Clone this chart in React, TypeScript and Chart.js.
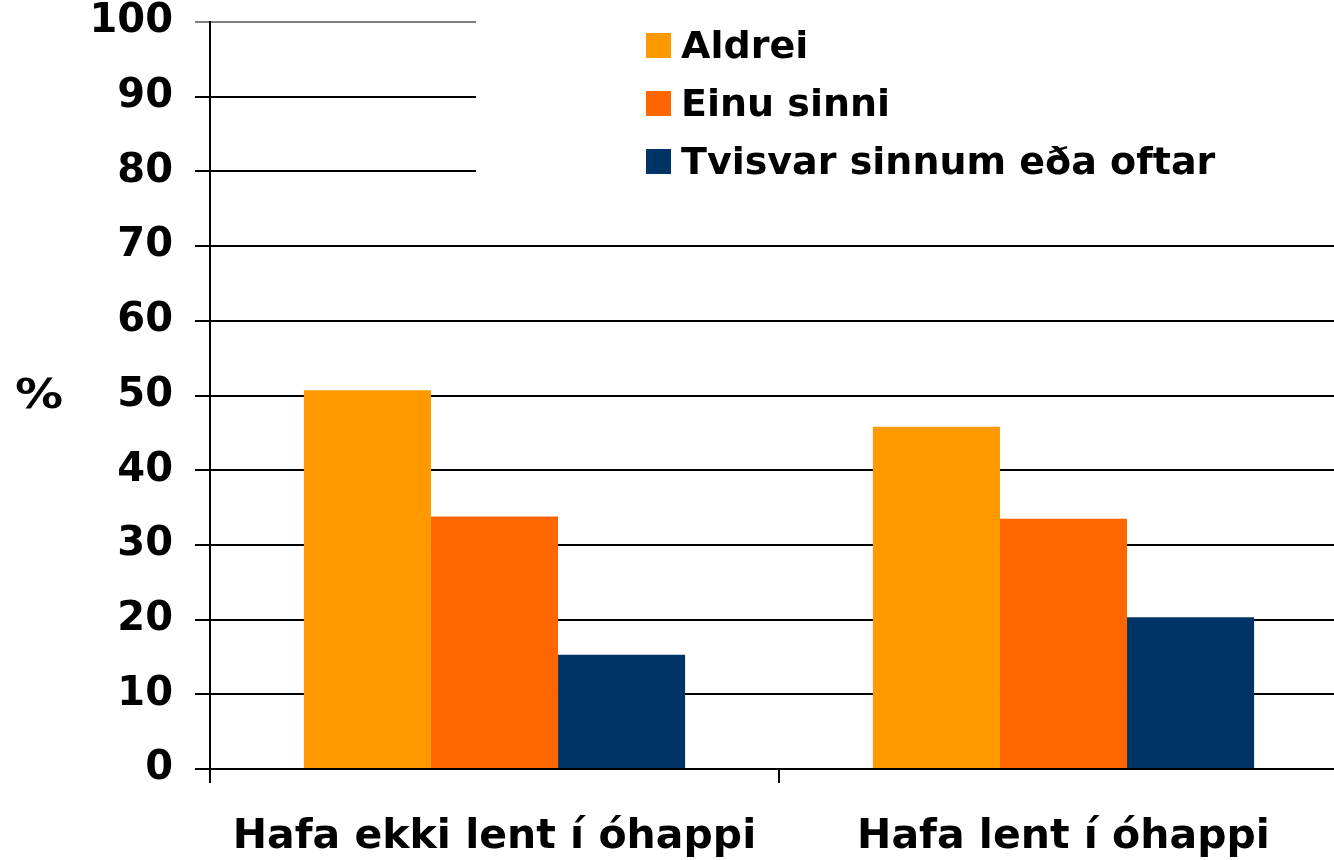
import React, { useEffect, useRef } from "react";
import { Chart, registerables } from "chart.js";

Chart.register(...registerables);

const categories = ["Hafa ekki lent í óhappi", "Hafa lent í óhappi"];
const seriesNames = ["Aldrei", "Einu sinni", "Tvisvar sinnum eða oftar"];
const aldrei = [50.7, 45.8];
const einuSinni = [33.8, 33.5];
const tvisvar = [15.3, 20.3];
const seriesColors = ["#FF9900", "#FF6600", "#003366"];
const yTitle = "%";

const FONT = "'DejaVu Sans', Verdana, sans-serif";

const overlayPlugin = {
  id: "overlay",
  afterDatasetsDraw(chart: any) {
    const ctx = chart.ctx;
    const y = chart.scales.y;
    ctx.save();
    // legend box (white, covers grid lines)
    ctx.fillStyle = "#ffffff";
    ctx.fillRect(476, 0, chart.width - 476, 210);
    const boxX = 646;
    const boxSize = 25;
    const firstTop = 33;
    const step = 58;
    ctx.font = `bold 38px ${FONT}`;
    ctx.textAlign = "left";
    ctx.textBaseline = "alphabetic";
    chart.data.datasets.forEach((ds: any, i: number) => {
      const top = firstTop + i * step;
      ctx.fillStyle = ds.backgroundColor;
      ctx.fillRect(boxX, top, boxSize, boxSize);
      ctx.fillStyle = "#000000";
      ctx.fillText(ds.label, 681, top + boxSize);
    });
    // y title
    ctx.translate(15, y.getPixelForValue(50) + 2);
    ctx.scale(1.2, 1);
    ctx.font = `bold 40px ${FONT}`;
    ctx.textBaseline = "middle";
    ctx.textAlign = "left";
    ctx.fillStyle = "#000000";
    ctx.fillText(yTitle, 0, 0);
    ctx.restore();
  },
};

export default function App() {
  const ref = useRef<HTMLCanvasElement | null>(null);
  useEffect(() => {
    if (!ref.current) return;
    const values = [aldrei, einuSinni, tvisvar];
    const chart = new Chart(ref.current, {
      type: "bar",
      data: {
        labels: categories,
        datasets: seriesNames.map((name, i) => ({
          label: name,
          data: values[i],
          backgroundColor: seriesColors[i],
          borderWidth: 0,
          categoryPercentage: 0.67,
          barPercentage: 1,
        })),
      },
      options: {
        responsive: false,
        animation: false,
        layout: { padding: { top: 0, right: 0, left: 0, bottom: 0 } },
        plugins: {
          legend: { display: false },
          tooltip: { enabled: false },
        },
        scales: {
          x: {
            offset: true,
            grid: {
              display: true,
              drawOnChartArea: false,
              drawTicks: true,
              tickLength: 14,
              color: "#000000",
              lineWidth: 2,
              offset: true,
            },
            border: { display: true, color: "#000000", width: 2 },
            ticks: {
              color: "#000000",
              font: { family: FONT, weight: "bold", size: 41 },
              padding: 30,
              maxRotation: 0,
              autoSkip: false,
            },
            afterFit: (scale: any) => {
              scale.height = 91;
            },
          },
          y: {
            min: 0,
            max: 100,
            ticks: {
              stepSize: 10,
              color: "#000000",
              font: { family: FONT, weight: "bold", size: 40 },
              padding: 22,
            },
            grid: {
              color: (c: any) => (c.tick && c.tick.value === 100 ? "#808080" : "#000000"),
              lineWidth: 2,
              tickLength: 15,
              drawTicks: true,
            },
            border: { display: true, color: "#000000", width: 2 },
            afterFit: (scale: any) => {
              scale.width = 210;
              scale.paddingTop = 22;
            },
          },
        },
      },
      plugins: [overlayPlugin],
    });
    return () => chart.destroy();
  }, []);
  return (
    <div style={{ position: "absolute", left: 0, top: 0, width: 1334, height: 860, overflow: "hidden", background: "#fff" }}>
      <canvas ref={ref} width={1348} height={860} style={{ display: "block" }} />
    </div>
  );
}
